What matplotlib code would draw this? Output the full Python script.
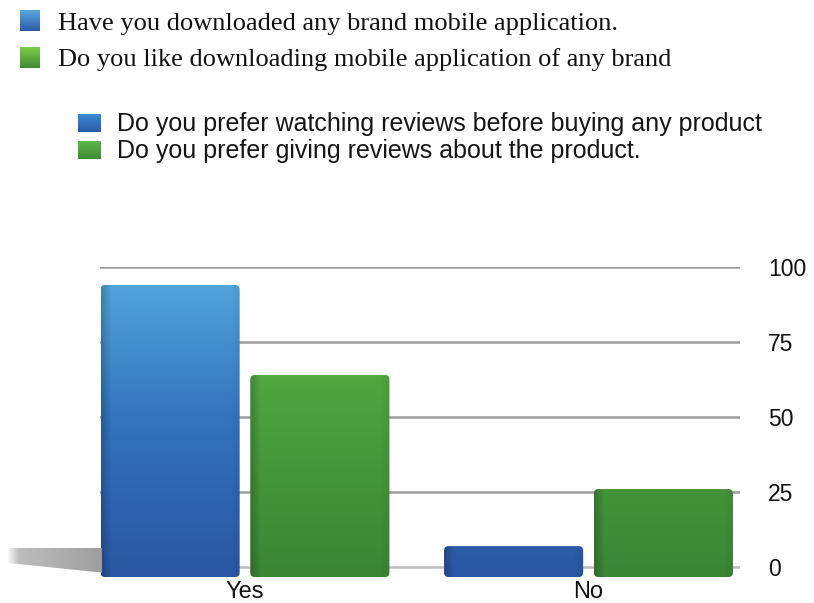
import numpy as np
import matplotlib
matplotlib.use("Agg")
import matplotlib.pyplot as plt
from matplotlib.patches import FancyBboxPatch, Polygon
from matplotlib.colors import LinearSegmentedColormap

# ---- data ----
categories = ["Yes", "No"]
watch_reviews = [94, 7]       # Do you prefer watching reviews before buying any product
give_reviews = [64, 26]       # Do you prefer giving reviews about the product.
yticks = [0, 25, 50, 75, 100]

app_questions = ["Have you downloaded any brand mobile application.",
                 "Do you like downloading mobile application of any brand"]
review_questions = ["Do you prefer watching reviews before buying any product",
                    "Do you prefer giving reviews about the product."]

W, H = 814, 603
fig = plt.figure(figsize=(W / 100, H / 100), dpi=100)
fig.patch.set_facecolor("white")


def px(x, y):
    """pixel (from top-left) -> figure fraction"""
    return x / W, 1 - y / H


blue_cmap = LinearSegmentedColormap.from_list("b", ["#2a56a3", "#3372bd", "#55aadf"])
green_cmap = LinearSegmentedColormap.from_list("g", ["#3b8535", "#4a9e3d", "#62bc48"])

# ---- main bar axes ----
base = -3.3
ax_l, ax_r, ax_t, ax_b = 100, 740, 267, 577
ax = fig.add_axes([ax_l / W, (H - ax_b) / H, (ax_r - ax_l) / W, (ax_b - ax_t) / H])
ax.set_xlim(-0.422, 1.441)
ax.set_ylim(base, 100)
for s in ax.spines.values():
    s.set_visible(False)

for t in yticks:
    ax.axhline(t, color="#bdbdbd" if t == 0 else "#9c9c9c", lw=1.8, zorder=1)

ax.yaxis.tick_right()
ax.set_yticks(yticks)
ax.set_yticklabels([str(t) for t in yticks])
ax.tick_params(axis="y", length=0, pad=20, labelsize=16.5, labelcolor="#111111")
ax.set_xticks(range(len(categories)))
ax.set_xticklabels(categories)
ax.tick_params(axis="x", length=0, pad=3, labelsize=17, labelcolor="#111111")
for lab in ax.get_xticklabels() + ax.get_yticklabels():
    lab.set_family("Liberation Sans")

offset, width = 0.218, 0.405

# rounding radius, identical in both directions on screen
fig.canvas.draw()
p0 = ax.transData.transform((0, 0))
p1 = ax.transData.transform((1, 1))
aspect = (p1[0] - p0[0]) / (p1[1] - p0[1])
rad = 4.5 / (p1[0] - p0[0])

grad = np.linspace(0, 1, 256).reshape(-1, 1)
shade = np.concatenate([np.linspace(0.8, 1, 8), np.ones(84), np.linspace(1, 0.94, 8)])


def gradient_bar(xc, value, cmap):
    x0 = xc - width / 2
    patch = FancyBboxPatch((x0, base), width, value - base,
                           boxstyle=f"round,pad=0,rounding_size={rad}",
                           mutation_aspect=aspect, linewidth=0,
                           facecolor="none", zorder=3)
    ax.add_patch(patch)
    ys = np.linspace(base, value, 200)
    frac = (ys - base) / (100 - base)
    rgb = cmap(frac)[:, :3]
    img = rgb[:, None, :] * shade[None, :, None]
    im = ax.imshow(img[::-1], extent=(x0, x0 + width, base, value),
                   aspect="auto", zorder=3, interpolation="bilinear")
    im.set_clip_path(patch)


for i, cat in enumerate(categories):
    gradient_bar(i - offset, watch_reviews[i], blue_cmap)
    gradient_bar(i + offset, give_reviews[i], green_cmap)

ax.set_xlim(-0.422, 1.441)
ax.set_ylim(base, 100)

# floor shadow left of the first bar
sh_l, sh_r, sh_t, sh_b = 8, 102, 545, 575
sax = fig.add_axes([sh_l / W, (H - sh_b) / H, (sh_r - sh_l) / W, (sh_b - sh_t) / H])
sax.set_xlim(0, 1)
sax.set_ylim(0, 1)
sax.axis("off")
sh = np.concatenate([np.linspace(0.97, 0.74, 25), np.linspace(0.74, 0.62, 175)])
shimg = np.repeat(np.repeat(sh[None, :], 50, axis=0)[:, :, None], 3, axis=2)
wedge = Polygon([(0, 0.4), (1, 0.08), (1, 0.9), (0, 0.9)], closed=True,
                transform=sax.transAxes, facecolor="none", lw=0)
sax.add_patch(wedge)
sim = sax.imshow(shimg, extent=(0, 1, 0, 1), aspect="auto", interpolation="bilinear")
sim.set_clip_path(wedge)

# ---- top legend (serif) ----
top_colors = [("#5aa8e0", "#2a5aa8"), ("#7ccc4c", "#3f8a30")]


def grad_square(x, y, w, h, c_top, c_bot):
    a = fig.add_axes([x / W, (H - y - h) / H, w / W, h / H])
    a.axis("off")
    cm = LinearSegmentedColormap.from_list("sq", [c_bot, c_top])
    a.imshow(grad[::-1] * np.ones((1, 4)), cmap=cm, aspect="auto",
             extent=(0, 1, 0, 1), interpolation="bilinear")


for k, (q, (ct, cb)) in enumerate(zip(app_questions, top_colors)):
    y_sq = 10 + k * 37
    grad_square(20, y_sq, 20, 21, ct, cb)
    fig.text(*px(58, 30 + k * 36), q, family="Liberation Serif", fontsize=19,
             color="#111111", va="baseline", ha="left")

# ---- review legend (sans) ----
rev_colors = [("#3b8bd6", "#2a5aa5"), ("#5cb848", "#3e8a36")]
for k, (q, (ct, cb)) in enumerate(zip(review_questions, rev_colors)):
    y_sq = 114 + k * 27
    grad_square(78, y_sq, 23, 18, ct, cb)
    fig.text(*px(117, 131 + k * 27), q, family="Liberation Sans", fontsize=18,
             color="#151515", va="baseline", ha="left")

fig.savefig("out.png", dpi=100, facecolor="white")
